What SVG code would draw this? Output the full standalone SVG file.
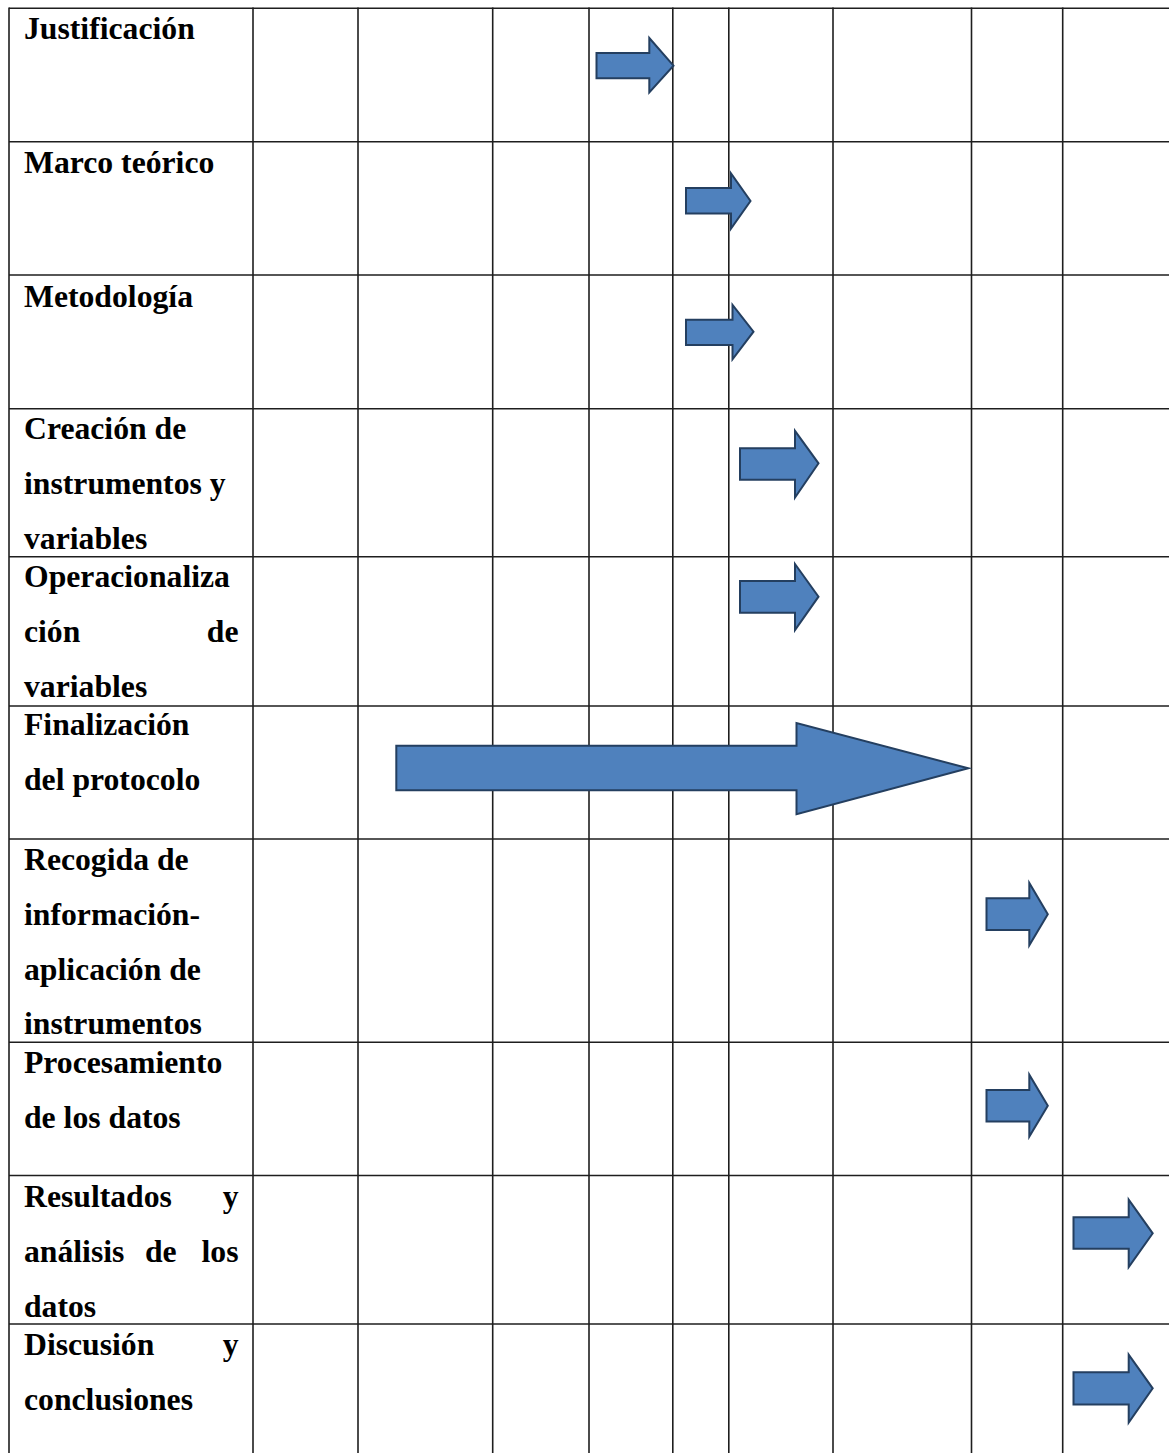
<svg xmlns="http://www.w3.org/2000/svg" width="1169" height="1453" viewBox="0 0 1169 1453">
<style>
.bg{fill:#ffffff}
.grid line{stroke:#1e1e1e;stroke-width:1.6}
.t{font-family:"Liberation Serif","Times New Roman",serif;font-weight:bold;font-size:31.7px;fill:#000}
.e{text-anchor:end}
.arr{fill:#4F81BD;stroke:#243F60;stroke-width:2;stroke-linejoin:miter}
</style>
<rect class="bg" x="0" y="0" width="1169" height="1453"/>
<g id="grid" class="grid">
<line x1="9" y1="8.3" x2="1169" y2="8.3"/>
<line x1="9" y1="141.7" x2="1169" y2="141.7"/>
<line x1="9" y1="275" x2="1169" y2="275"/>
<line x1="9" y1="408.7" x2="1169" y2="408.7"/>
<line x1="9" y1="556.7" x2="1169" y2="556.7"/>
<line x1="9" y1="706" x2="1169" y2="706"/>
<line x1="9" y1="839" x2="1169" y2="839"/>
<line x1="9" y1="1042.3" x2="1169" y2="1042.3"/>
<line x1="9" y1="1175.5" x2="1169" y2="1175.5"/>
<line x1="9" y1="1324" x2="1169" y2="1324"/>
<line x1="9" y1="7.5" x2="9" y2="1453"/>
<line x1="253" y1="7.5" x2="253" y2="1453"/>
<line x1="358" y1="7.5" x2="358" y2="1453"/>
<line x1="492.7" y1="7.5" x2="492.7" y2="1453"/>
<line x1="589" y1="7.5" x2="589" y2="1453"/>
<line x1="672.8" y1="7.5" x2="672.8" y2="1453"/>
<line x1="728.8" y1="7.5" x2="728.8" y2="1453"/>
<line x1="833" y1="7.5" x2="833" y2="1453"/>
<line x1="971.5" y1="7.5" x2="971.5" y2="1453"/>
<line x1="1062.7" y1="7.5" x2="1062.7" y2="1453"/>
</g>
<g id="row-justificacion"><text class="t" x="24" y="39.3">Justificación</text></g>
<g id="row-marco"><text class="t" x="24" y="173.3">Marco teórico</text></g>
<g id="row-metodologia"><text class="t" x="24" y="306.5">Metodología</text></g>
<g id="row-creacion">
<text class="t" x="24" y="439.3">Creación de</text>
<text class="t" x="24" y="494">instrumentos y</text>
<text class="t" x="24" y="549.3">variables</text>
</g>
<g id="row-operacionalizacion">
<text class="t" x="24" y="587.3">Operacionaliza</text>
<text class="t" x="24" y="642">ción</text>
<text class="t e" x="238.5" y="642">de</text>
<text class="t" x="24" y="696.8">variables</text>
</g>
<g id="row-finalizacion">
<text class="t" x="24" y="735">Finalización</text>
<text class="t" x="24" y="790">del protocolo</text>
</g>
<g id="row-recogida">
<text class="t" x="24" y="870">Recogida de</text>
<text class="t" x="24" y="925">información-</text>
<text class="t" x="24" y="980">aplicación de</text>
<text class="t" x="24" y="1034">instrumentos</text>
</g>
<g id="row-procesamiento">
<text class="t" x="24" y="1072.5">Procesamiento</text>
<text class="t" x="24" y="1128.3">de los datos</text>
</g>
<g id="row-resultados">
<text class="t" x="24" y="1206.7">Resultados</text>
<text class="t e" x="238.5" y="1206.7">y</text>
<text class="t" x="24" y="1262.3">análisis</text>
<text class="t" x="145" y="1262.3">de</text>
<text class="t e" x="238.5" y="1262.3">los</text>
<text class="t" x="24" y="1316.7">datos</text>
</g>
<g id="row-discusion">
<text class="t" x="24" y="1355">Discusión</text>
<text class="t e" x="238.5" y="1355">y</text>
<text class="t" x="24" y="1410">conclusiones</text>
</g>
<g id="arrows">
<polygon class="arr" points="596.5,53 649.3,53 649.3,38 673.5,65.7 649.3,92.5 649.3,78.3 596.5,78.3"/>
<polygon class="arr" points="686,188 731,188 731,173.5 750.5,201 731,228.5 731,213.5 686,213.5"/>
<polygon class="arr" points="686,319.7 732.5,319.7 732.5,305 753.5,331.7 732.5,359.3 732.5,345 686,345"/>
<polygon class="arr" points="740,448.3 795,448.3 795,430.8 818.5,463.3 795,497.5 795,479.7 740,479.7"/>
<polygon class="arr" points="740,581 795,581 795,564 818.5,596.7 795,630 795,612.7 740,612.7"/>
<polygon class="arr" points="396.3,745.7 796.5,745.7 796.5,723 968.3,768.3 796.5,814.3 796.5,790.3 396.3,790.3"/>
<polygon class="arr" points="986.5,898.3 1029.3,898.3 1029.3,883 1047.8,914.3 1029.3,945.3 1029.3,930 986.5,930"/>
<polygon class="arr" points="986.5,1090 1029.3,1090 1029.3,1074.7 1047.8,1105.7 1029.3,1136.6 1029.3,1121.6 986.5,1121.6"/>
<polygon class="arr" points="1073.5,1217.3 1128.7,1217.3 1128.7,1199.7 1152.7,1233.3 1128.7,1267 1128.7,1248.7 1073.5,1248.7"/>
<polygon class="arr" points="1073.5,1372.3 1128.7,1372.3 1128.7,1354.7 1152.7,1388.3 1128.7,1422.6 1128.7,1404.4 1073.5,1404.4"/>
</g>
</svg>
